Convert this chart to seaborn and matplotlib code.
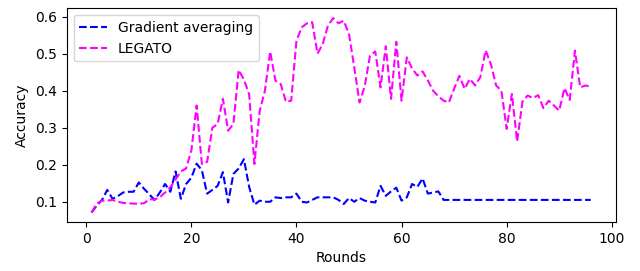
import numpy as np
import pandas as pd
import matplotlib
matplotlib.use("Agg")
import matplotlib.pyplot as plt
import seaborn as sns

# Valores (rondas 1..96)
rounds = list(range(1, 97))

grad_avg = [0.071, 0.09, 0.105, 0.132, 0.108, 0.115, 0.125, 0.127, 0.127, 0.152,
            0.135, 0.12, 0.105, 0.125, 0.148, 0.127, 0.182, 0.108, 0.148, 0.165,
            0.203, 0.185, 0.122, 0.132, 0.143, 0.18, 0.098, 0.175, 0.19, 0.215,
            0.14, 0.092, 0.103, 0.10, 0.10, 0.112, 0.11, 0.112, 0.112, 0.122,
            0.10, 0.098, 0.105, 0.112, 0.112, 0.112, 0.112, 0.105, 0.094, 0.11,
            0.10, 0.11, 0.103, 0.10, 0.098, 0.143, 0.116, 0.128, 0.138, 0.103,
            0.112, 0.148, 0.14, 0.163, 0.122, 0.125, 0.128] + [0.105] * 29

legato = [0.071, 0.095, 0.103, 0.103, 0.105, 0.100, 0.097, 0.096, 0.095, 0.095,
          0.096, 0.107, 0.106, 0.112, 0.125, 0.139, 0.16, 0.182, 0.19, 0.238,
          0.36, 0.202, 0.208, 0.30, 0.31, 0.378, 0.292, 0.31, 0.456, 0.43,
          0.39, 0.202, 0.345, 0.40, 0.506, 0.427, 0.418, 0.37, 0.373, 0.535,
          0.571, 0.582, 0.585, 0.50, 0.526, 0.576, 0.596, 0.582, 0.589, 0.553,
          0.463, 0.368, 0.413, 0.495, 0.506, 0.409, 0.52, 0.378, 0.532, 0.373,
          0.49, 0.46, 0.441, 0.452, 0.428, 0.40, 0.385, 0.373, 0.368, 0.405,
          0.44, 0.405, 0.432, 0.414, 0.437, 0.509, 0.472, 0.414, 0.40, 0.297,
          0.391, 0.263, 0.37, 0.387, 0.38, 0.388, 0.353, 0.373, 0.36, 0.346,
          0.407, 0.375, 0.508, 0.409, 0.414, 0.411]

df = pd.DataFrame({
    'Rounds': rounds * 2,
    'Accuracy': grad_avg + legato,
    'Method': ['Gradient averaging'] * len(rounds) + ['LEGATO'] * len(rounds),
})

fig, ax = plt.subplots(figsize=(6.4, 2.71), dpi=100)
sns.lineplot(data=df, x='Rounds', y='Accuracy', hue='Method',
             palette={'Gradient averaging': 'blue', 'LEGATO': 'magenta'},
             linestyle='--', ax=ax)

ax.set_xlabel('Rounds')
ax.set_ylabel('Accuracy')
ax.legend(loc='upper left')

# Márgenes ajustados a la figura original
fig.subplots_adjust(left=0.104, right=0.962, top=0.969, bottom=0.18)
fig.savefig('out.png')
